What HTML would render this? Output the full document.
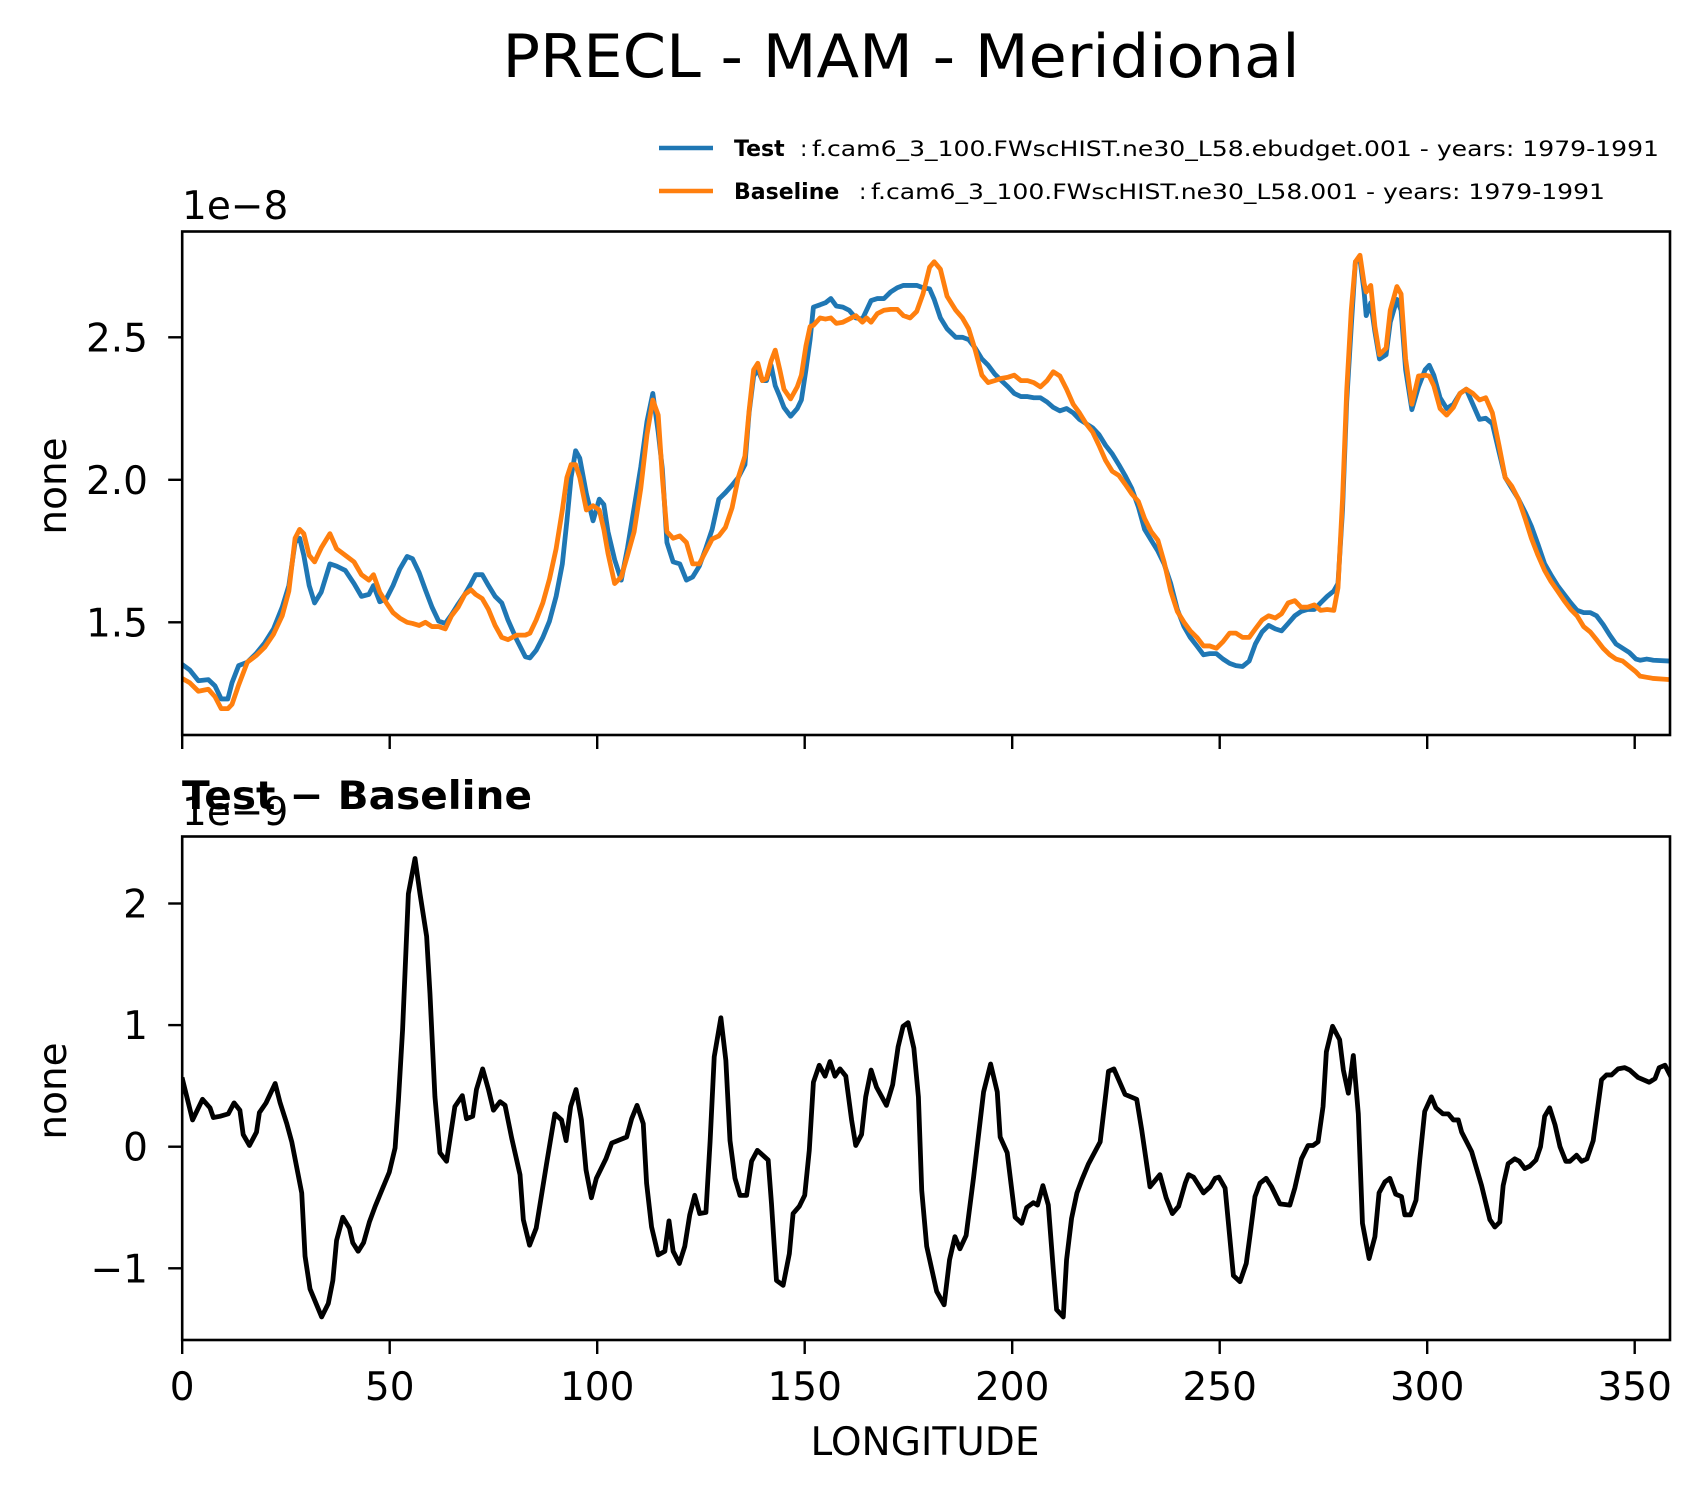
<!DOCTYPE html>
<html><head><meta charset="utf-8"><title>PRECL - MAM - Meridional</title>
<style>html,body{margin:0;padding:0;background:#fff}svg{display:block}text{font-family:"DejaVu Sans","Liberation Sans",sans-serif;fill:#000}</style>
</head><body>
<svg id="chart" width="1703" height="1496" viewBox="0 0 1703 1496" xmlns="http://www.w3.org/2000/svg">
<rect width="1703" height="1496" fill="#fff"/>
<text x="901" y="77" font-size="60" text-anchor="middle" textLength="797" lengthAdjust="spacingAndGlyphs">PRECL - MAM - Meridional</text>
<g>
<line x1="659" y1="148" x2="713" y2="148" stroke="#1f77b4" stroke-width="4.5"/>
<text x="734" y="156" font-size="22" font-weight="bold">Test</text>
<text x="800" y="156" font-size="22">:</text>
<text x="812" y="156" font-size="21" textLength="847" lengthAdjust="spacingAndGlyphs">f.cam6_3_100.FWscHIST.ne30_L58.ebudget.001 - years: 1979-1991</text>
<line x1="659" y1="191" x2="713" y2="191" stroke="#ff7f0e" stroke-width="4.5"/>
<text x="734" y="199" font-size="22" font-weight="bold">Baseline</text>
<text x="859" y="199" font-size="22">:</text>
<text x="871" y="199" font-size="21" textLength="734" lengthAdjust="spacingAndGlyphs">f.cam6_3_100.FWscHIST.ne30_L58.001 - years: 1979-1991</text>
</g>
<text x="182" y="219" font-size="39">1e−8</text>
<text x="0" y="0" font-size="39" text-anchor="middle" transform="translate(66,486) rotate(-90)">none</text>
<text x="182" y="825" font-size="39">1e−9</text>
<text x="182" y="809" font-size="39" font-weight="bold" textLength="350" lengthAdjust="spacingAndGlyphs">Test − Baseline</text>
<text x="0" y="0" font-size="39" text-anchor="middle" transform="translate(66,1091) rotate(-90)">none</text>
<text x="925" y="1455" font-size="39" text-anchor="middle">LONGITUDE</text>
<g id="plots"></g>
</svg>
<script>
const lonTop = [0,1.8,3.9,6.3,7.9,9.4,11.0,12.0,13.6,15.7,
17.8,19.9,22.0,24.1,25.7,27.2,28.3,29.3,30.6,31.9,
33.5,35.6,37.2,39.3,41.4,43.2,45.0,46.1,47.6,49.2,
50.8,52.4,54.2,55.5,57.1,58.6,60.2,61.8,63.4,64.9,
66.5,68.1,69.6,70.7,72.3,73.8,75.4,77.0,78.5,80.6,
82.7,83.8,85.3,86.9,88.5,90.1,91.6,92.7,93.7,94.8,
95.8,97.4,99.0,100.5,101.6,102.6,104.2,105.8,107.3,108.9,
110.5,112.0,113.4,114.7,115.7,116.8,118.3,119.9,121.5,123.0,
124.6,126.2,127.7,129.3,130.9,132.5,134.0,135.6,136.6,137.7,
138.7,139.8,140.8,141.9,142.9,144.0,145.0,146.6,148.2,149.2,
150.3,151.3,152.1,153.7,155.0,156.3,157.6,159.2,160.7,162.3,
163.9,164.9,166.0,167.5,169.1,170.7,172.3,173.8,175.4,177.0,
178.5,180.1,181.2,182.7,184.3,186.4,188.0,189.5,191.1,192.7,
194.2,195.8,197.4,199.0,200.5,202.1,203.7,205.2,206.8,208.4,
209.9,211.5,213.1,214.7,216.2,217.8,219.4,220.9,222.5,224.1,
225.7,227.2,228.8,230.4,231.9,233.5,235.1,236.6,238.2,239.8,
241.4,242.9,244.5,246.1,247.6,249.2,250.8,252.4,253.9,255.5,
257.1,258.6,260.2,261.8,263.4,264.9,266.5,268.1,269.6,271.2,
272.8,274.3,275.9,277.5,278.5,279.6,280.6,281.7,282.7,283.8,
284.8,285.3,286.4,287.4,288.5,290.1,291.1,292.7,293.7,294.8,
296.3,297.9,299.5,300.5,301.6,303.1,304.7,306.3,307.9,309.4,
311.0,312.6,314.1,315.7,317.3,318.8,320.4,322.0,323.6,325.1,
326.7,328.3,329.8,331.4,333.0,334.6,336.1,337.7,339.3,340.8,
342.4,344.0,345.5,347.1,348.7,350.3,351.3,352.9,354.5,358.4];
const testValues = [1.352,1.333,1.295,1.299,1.277,1.231,1.231,1.288,1.348,1.360,
1.390,1.428,1.477,1.553,1.629,1.780,1.795,1.735,1.629,1.568,
1.606,1.705,1.697,1.682,1.636,1.591,1.598,1.629,1.572,1.583,
1.629,1.686,1.731,1.723,1.674,1.614,1.553,1.504,1.496,1.527,
1.564,1.598,1.636,1.667,1.667,1.629,1.591,1.568,1.508,1.439,
1.379,1.375,1.402,1.447,1.504,1.591,1.705,1.856,2.008,2.102,
2.076,1.951,1.856,1.932,1.913,1.818,1.720,1.648,1.761,1.902,
2.045,2.205,2.303,2.167,2.038,1.780,1.712,1.705,1.648,1.659,
1.697,1.761,1.826,1.932,1.955,1.981,2.008,2.053,2.235,2.364,
2.386,2.348,2.348,2.402,2.330,2.292,2.254,2.223,2.250,2.280,
2.386,2.492,2.606,2.614,2.621,2.636,2.610,2.606,2.595,2.568,
2.564,2.595,2.629,2.636,2.636,2.659,2.674,2.682,2.682,2.682,
2.674,2.670,2.633,2.568,2.530,2.500,2.500,2.492,2.462,2.424,
2.402,2.371,2.348,2.326,2.303,2.292,2.292,2.288,2.288,2.273,
2.254,2.242,2.250,2.235,2.212,2.197,2.182,2.159,2.121,2.091,
2.053,2.015,1.970,1.905,1.826,1.788,1.750,1.705,1.636,1.545,
1.485,1.447,1.417,1.386,1.390,1.390,1.371,1.356,1.348,1.345,
1.364,1.424,1.466,1.489,1.477,1.470,1.496,1.523,1.538,1.545,
1.545,1.568,1.591,1.610,1.636,1.894,2.273,2.538,2.765,2.773,
2.659,2.576,2.621,2.519,2.424,2.439,2.553,2.633,2.595,2.386,
2.246,2.326,2.386,2.402,2.367,2.288,2.250,2.265,2.303,2.318,
2.265,2.212,2.216,2.197,2.098,2.008,1.970,1.932,1.886,1.837,
1.773,1.705,1.667,1.629,1.598,1.568,1.542,1.534,1.534,1.523,
1.492,1.455,1.424,1.409,1.394,1.371,1.367,1.371,1.367,1.364];
const baselineValues = [1.303,1.288,1.258,1.265,1.239,1.197,1.197,1.212,1.280,1.360,
1.383,1.413,1.458,1.523,1.610,1.795,1.826,1.811,1.735,1.712,
1.761,1.811,1.758,1.735,1.712,1.667,1.648,1.667,1.606,1.568,
1.534,1.515,1.500,1.496,1.489,1.500,1.485,1.485,1.477,1.523,
1.553,1.598,1.614,1.598,1.583,1.545,1.489,1.447,1.439,1.455,
1.455,1.462,1.508,1.568,1.652,1.758,1.894,2.008,2.053,2.053,
2.008,1.894,1.909,1.894,1.826,1.742,1.636,1.659,1.735,1.818,
1.970,2.159,2.280,2.227,2.008,1.818,1.795,1.803,1.780,1.705,
1.705,1.750,1.792,1.803,1.833,1.902,2.008,2.083,2.242,2.386,
2.409,2.348,2.356,2.417,2.455,2.386,2.318,2.284,2.326,2.367,
2.470,2.538,2.542,2.568,2.564,2.568,2.549,2.553,2.564,2.576,
2.553,2.568,2.553,2.583,2.595,2.598,2.598,2.576,2.568,2.591,
2.652,2.746,2.765,2.739,2.644,2.595,2.568,2.530,2.455,2.367,
2.341,2.348,2.356,2.360,2.367,2.348,2.348,2.341,2.326,2.348,
2.379,2.364,2.318,2.265,2.235,2.197,2.167,2.121,2.068,2.030,
2.015,1.985,1.951,1.924,1.864,1.818,1.788,1.712,1.610,1.538,
1.500,1.470,1.447,1.417,1.417,1.409,1.432,1.462,1.462,1.447,
1.447,1.477,1.508,1.523,1.515,1.530,1.568,1.576,1.553,1.553,
1.561,1.542,1.545,1.542,1.621,1.932,2.311,2.595,2.765,2.788,
2.689,2.659,2.682,2.538,2.439,2.462,2.595,2.678,2.652,2.424,
2.265,2.364,2.367,2.364,2.330,2.250,2.227,2.254,2.303,2.318,
2.303,2.280,2.288,2.235,2.121,2.008,1.977,1.932,1.864,1.795,
1.735,1.682,1.644,1.610,1.576,1.545,1.523,1.485,1.466,1.439,
1.409,1.386,1.371,1.364,1.345,1.326,1.311,1.307,1.303,1.299];
const lonDiff = [0.1,2.5,4.9,6.7,7.5,9.1,11.1,12.5,13.9,14.7,16.2,17.9,18.6,20.2,22.4,23.6,25.2,26.4,28.8,29.6,
30.8,33.6,35.2,36.3,37.2,38.7,40.3,41.1,42.4,43.7,45.1,46.5,49.9,51.3,52.1,53.1,54.5,56.1,57.3,58.9,
59.7,60.9,62.1,63.7,65.7,67.5,68.5,70.0,70.9,72.4,73.8,75.0,76.6,77.8,79.4,81.4,82.2,83.7,85.3,87.8,
89.8,91.4,92.5,93.6,94.9,96.2,97.3,98.6,99.8,102.1,103.5,107.1,108.3,109.6,111.1,111.9,113.1,114.7,116.3,117.3,
118.3,119.8,121.1,122.3,123.5,124.7,126.2,127.2,128.2,129.8,131.0,132.0,133.2,134.4,136.0,137.2,138.6,141.2,142.0,143.2,
144.8,146.3,147.2,148.7,150.0,151.1,152.1,153.5,154.9,156.1,157.3,158.5,159.9,161.3,162.3,163.7,164.7,166.0,167.3,169.7,
171.2,172.5,173.7,174.9,176.3,177.4,178.2,179.4,181.8,183.6,184.9,186.2,187.4,188.9,190.7,193.1,194.8,196.4,197.1,198.8,
200.7,202.3,203.5,205.1,206.1,207.4,208.7,209.9,210.7,212.3,213.1,214.3,215.6,216.8,218.4,221.2,223.2,224.5,227.2,230.0,
231.2,233.2,235.6,237.1,238.6,240.1,241.7,242.5,243.7,246.1,247.7,248.9,249.8,251.3,253.3,254.9,256.4,257.3,258.5,259.7,
261.2,262.5,264.5,266.9,268.1,269.7,271.3,272.5,273.7,274.9,275.7,277.2,278.9,279.8,281.0,282.2,283.4,284.4,286.0,287.4,
288.4,289.8,291.0,292.4,293.8,294.6,296.0,297.3,298.2,299.4,301.0,302.1,303.8,305.1,306.3,307.5,308.3,310.7,313.1,315.1,
316.3,317.5,318.3,319.5,321.1,322.2,323.5,324.7,326.2,327.3,328.3,329.5,330.8,332.0,333.4,334.4,336.0,337.2,338.5,340.0,
342.0,343.2,344.4,346.0,347.6,348.8,350.8,353.5,354.9,355.9,357.3,358.5];
const diffValues = [0.55,0.22,0.39,0.32,0.24,0.25,0.27,0.36,0.30,0.10,0.01,0.12,0.28,0.36,0.52,0.36,0.19,0.04,-0.38,-0.90,
-1.17,-1.40,-1.29,-1.10,-0.77,-0.58,-0.67,-0.79,-0.86,-0.79,-0.62,-0.49,-0.21,-0.01,0.38,0.96,2.08,2.37,2.08,1.73,
1.26,0.41,-0.05,-0.12,0.33,0.42,0.23,0.25,0.47,0.64,0.47,0.30,0.37,0.34,0.07,-0.23,-0.60,-0.81,-0.67,-0.14,
0.27,0.22,0.05,0.33,0.47,0.22,-0.19,-0.42,-0.26,-0.10,0.03,0.08,0.23,0.34,0.19,-0.30,-0.66,-0.89,-0.86,-0.61,
-0.86,-0.96,-0.82,-0.56,-0.40,-0.55,-0.54,0.04,0.74,1.06,0.71,0.05,-0.26,-0.40,-0.40,-0.12,-0.03,-0.11,-0.47,-1.10,
-1.14,-0.88,-0.55,-0.49,-0.40,-0.03,0.53,0.67,0.58,0.70,0.58,0.64,0.58,0.22,0.01,0.10,0.41,0.63,0.49,0.34,
0.51,0.82,0.99,1.02,0.81,0.41,-0.36,-0.82,-1.19,-1.30,-0.93,-0.74,-0.84,-0.73,-0.25,0.45,0.68,0.45,0.08,-0.05,
-0.58,-0.63,-0.50,-0.46,-0.48,-0.32,-0.48,-1.01,-1.34,-1.40,-0.93,-0.59,-0.38,-0.27,-0.14,0.04,0.62,0.64,0.43,0.39,
0.14,-0.33,-0.23,-0.42,-0.55,-0.49,-0.30,-0.23,-0.25,-0.38,-0.33,-0.26,-0.25,-0.34,-1.06,-1.11,-0.96,-0.73,-0.41,-0.30,
-0.26,-0.33,-0.47,-0.48,-0.34,-0.10,0.01,0.01,0.04,0.33,0.78,0.99,0.88,0.63,0.44,0.75,0.27,-0.63,-0.92,-0.74,
-0.38,-0.29,-0.26,-0.39,-0.41,-0.56,-0.56,-0.44,-0.11,0.29,0.41,0.32,0.27,0.27,0.22,0.22,0.12,-0.04,-0.32,-0.60,
-0.66,-0.62,-0.32,-0.14,-0.10,-0.12,-0.18,-0.16,-0.11,0.00,0.25,0.32,0.18,0.00,-0.12,-0.12,-0.07,-0.12,-0.10,0.05,
0.55,0.59,0.59,0.64,0.65,0.63,0.57,0.53,0.56,0.65,0.67,0.59];
const xTicks = [0,50,100,150,200,250,300,350];
const xTickLabels = ["0","50","100","150","200","250","300","350"];
const yTopTicks = [1.5,2.0,2.5];
const yTopTickLabels = ["1.5","2.0","2.5"];
const yBotTicks = [-1,0,1,2];
const yBotTickLabels = ["−1","0","1","2"];

const NS = "http://www.w3.org/2000/svg";
const L = 182.2, R = 1670;
const xS = lon => L + lon * 4.15;
const yTop = v => 337.3 - (v - 2.5) * 285;
const yBot = v => 1146.7 - v * 121.6;
const g = document.getElementById('plots');
function mk(tag, attrs, parent) {
  const el = document.createElementNS(NS, tag);
  for (const k in attrs) el.setAttribute(k, attrs[k]);
  (parent || g).appendChild(el);
  return el;
}
function path(xs, ys, ysc, color, name, clipId) {
  let d = '';
  for (let i = 0; i < xs.length; i++) d += (i ? 'L' : 'M') + xS(xs[i]).toFixed(2) + ' ' + ysc(ys[i]).toFixed(2);
  const p = mk('path', {d: d, fill: 'none', stroke: color, 'stroke-width': 4.8, 'stroke-linejoin': 'round', 'stroke-linecap': 'square', 'clip-path': 'url(#' + clipId + ')'});
  
  
}
const defs = mk('defs', {});
const c1 = mk('clipPath', {id: 'clipTop'}, defs); mk('rect', {x: L, y: 231.5, width: R - L, height: 503.5}, c1);
const c2 = mk('clipPath', {id: 'clipBot'}, defs); mk('rect', {x: L, y: 836.5, width: R - L, height: 503.5}, c2);

path(lonTop, testValues, yTop, '#1f77b4', 'test-series-line', 'clipTop');
path(lonTop, baselineValues, yTop, '#ff7f0e', 'baseline-series-line', 'clipTop');
path(lonDiff, diffValues, yBot, '#000', 'difference-series-line', 'clipBot');

function frame(top, bot, name) {
  const r = mk('rect', {x: L, y: top, width: R - L, height: bot - top, fill: 'none', stroke: '#000', 'stroke-width': 2.6});
  
  
}
frame(231.5, 735, 'top-axes-frame');
frame(836.5, 1340, 'bottom-axes-frame');

xTicks.forEach((t, i) => {
  const x = xS(t);
  const a = mk('line', {x1: x, y1: 735, x2: x, y2: 749, stroke: '#000', 'stroke-width': 2.4});
  
  
  const b = mk('line', {x1: x, y1: 1340, x2: x, y2: 1354, stroke: '#000', 'stroke-width': 2.4});
  
  
  const tx = mk('text', {x: x, y: 1400, 'font-size': 39, 'text-anchor': 'middle'});
  tx.textContent = xTickLabels[i];
  
  
});
yTopTicks.forEach((t, i) => {
  const y = yTop(t);
  const a = mk('line', {x1: L - 14, y1: y, x2: L, y2: y, stroke: '#000', 'stroke-width': 2.4});
  
  
  const tx = mk('text', {x: 148, y: y + 14, 'font-size': 39, 'text-anchor': 'end'});
  tx.textContent = yTopTickLabels[i];
  
  
});
yBotTicks.forEach((t, i) => {
  const y = yBot(t);
  const a = mk('line', {x1: L - 14, y1: y, x2: L, y2: y, stroke: '#000', 'stroke-width': 2.4});
  
  
  const tx = mk('text', {x: 148, y: y + 14, 'font-size': 39, 'text-anchor': 'end'});
  tx.textContent = yBotTickLabels[i];
  
  
});
</script>
</body></html>
